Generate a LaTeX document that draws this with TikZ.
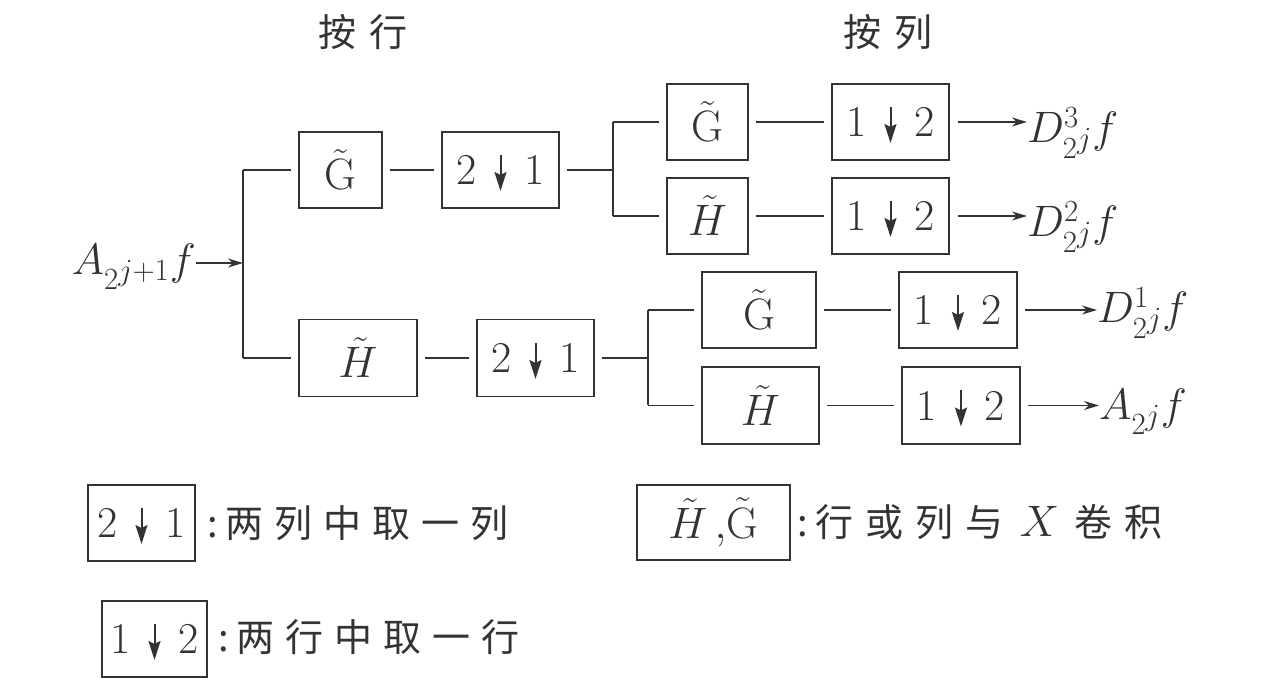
\RequirePackage{fix-cm}
\documentclass[tikz,border=0pt]{standalone}
\usepackage{fontspec}
\newfontfamily\cjk{Noto Sans CJK SC}
\usetikzlibrary{arrows.meta}
\definecolor{ink}{HTML}{333333}
\newcommand{\dgap}{\hspace{48pt}}
\newcommand{\Gt}{\tilde{\mathrm{G}}}
\begin{document}
\begin{tikzpicture}[x=1pt,y=-1pt,
  box/.style={draw=ink,line width=1.6pt,minimum height=76pt,inner sep=0pt,text=ink,font=\fontsize{44}{48}\selectfont},
  ln/.style={draw=ink,line width=1.5pt},
  gap/.style={shorten <=7pt,shorten >=7pt},
  arr/.style={ln,-{Stealth[length=15pt,width=9pt]}},
  dn/.style={draw=ink,line width=2pt,-{Stealth[length=19pt,width=12pt,inset=3pt]}},
  lbl/.style={text=ink,inner sep=0pt,font=\fontsize{44}{48}\selectfont},
  zh/.style={text=ink,inner sep=0pt,font=\cjk\fontsize{38}{40}\selectfont}]
\useasboundingbox (0,0) rectangle (1267,700);

% headings
\node[zh] (hr) at (363,32) {按\hspace{14pt}行};
\node[zh] (hc) at (888,32) {按\hspace{14pt}列};

% input
\node[lbl,anchor=base east] (in) at (196,275) {$A_{2^{\scriptstyle j+1}}f$};
\coordinate (j0) at (243,263);
\coordinate (jt) at (243,170);
\coordinate (jb) at (243,358);
\draw[arr] (in.east |- j0) -- (j0);
\draw[ln] (jt) -- (jb);

% first stage
\node[box,minimum width=83pt] (g1) at (340.5,170) {$\Gt$};
\node[box,minimum width=117pt] (d1) at (500.5,170) {2\dgap 1};
\node[box,minimum width=118pt,minimum height=77pt] (h1) at (358,358) {$\tilde{H}$};
\node[box,minimum width=117pt,minimum height=77pt] (d2) at (535.5,358) {2\dgap 1};
\draw[ln,shorten >=7pt] (jt) -- (g1.west);
\draw[ln,shorten >=7pt] (jb) -- (h1.west);
\draw[ln,gap] (g1) -- (d1);
\draw[ln,gap] (h1) -- (d2);

% upper second stage
\coordinate (s1t) at (613,122);
\coordinate (s1b) at (613,216);
\coordinate (s1m) at (613,170);
\draw[ln] (s1t) -- (s1b);
\draw[ln,shorten <=7pt] (d1.east) -- (s1m);
\node[box,minimum width=81pt] (g2) at (707.5,122) {$\Gt$};
\node[box,minimum width=81pt] (h2) at (707.5,216) {$\tilde{H}$};
\node[box,minimum width=117pt] (d3) at (890.5,122) {1\dgap 2};
\node[box,minimum width=117pt] (d4) at (890.5,216) {1\dgap 2};
\draw[ln,shorten >=7pt] (s1t) -- (g2.west);
\draw[ln,shorten >=7pt] (s1b) -- (h2.west);
\draw[ln,gap] (g2) -- (d3);
\draw[ln,gap] (h2) -- (d4);
\node[lbl,anchor=base west] (o1) at (1027,143) {$D^3_{2^{\scriptstyle j}}f$};
\node[lbl,anchor=base west] (o2) at (1027,237) {$D^2_{2^{\scriptstyle j}}f$};
\draw[arr,shorten <=8pt] (d3.east) -- (d3.east -| o1.west);
\draw[arr,shorten <=8pt] (d4.east) -- (d4.east -| o2.west);

% lower second stage
\coordinate (s2t) at (648,310);
\coordinate (s2b) at (648,405.5);
\coordinate (s2m) at (648,358);
\draw[ln] (s2t) -- (s2b);
\draw[ln,shorten <=7pt] (d2.east) -- (s2m);
\node[box,minimum width=114pt] (g3) at (759,310) {$\Gt$};
\node[box,minimum width=117pt,minimum height=77pt] (h3) at (760.5,405.5) {$\tilde{H}$};
\node[box,minimum width=118pt] (d5) at (958,310) {1\dgap 2};
\node[box,minimum width=118pt,minimum height=77pt] (d6) at (961,405.5) {1\dgap 2};
\draw[ln,shorten >=7pt] (s2t) -- (g3.west);
\draw[ln,shorten >=7pt] (s2b) -- (h3.west);
\draw[ln,gap] (g3) -- (d5);
\draw[ln,gap] (h3) -- (d6);
\node[lbl,anchor=base west] (o3) at (1097,323) {$D^1_{2^{\scriptstyle j}}f$};
\node[lbl,anchor=base west] (o4) at (1099,420) {$A_{2^{\scriptstyle j}}f$};
\draw[arr,shorten <=7pt] (d5.east) -- (d5.east -| o3.west);
\draw[arr,shorten <=7pt] (d6.east) -- (d6.east -| o4.west);

% legend
\node[box,minimum width=107pt] (k1) at (141.5,523) {2\dgap 1};
\node[zh,anchor=west] (t1) at (207,523) {:\hspace{8pt}两\hspace{11pt}列\hspace{11pt}中\hspace{11pt}取\hspace{11pt}一\hspace{11pt}列};
\node[box,minimum width=105pt] (k2) at (154.5,639) {1\dgap 2};
\node[zh,anchor=west] (t2) at (218,637) {:\hspace{8pt}两\hspace{11pt}行\hspace{11pt}中\hspace{11pt}取\hspace{11pt}一\hspace{11pt}行};
\node[box,minimum width=153pt,minimum height=75pt] (k3) at (713.5,522.5) {$\tilde{H}\,{,}\Gt$};
\node[zh,anchor=west] (t3) at (797,522) {:\hspace{8pt}行\hspace{12pt}或\hspace{12pt}列\hspace{12pt}与\hspace{16pt}{\fontsize{44}{48}\selectfont$X$}\hspace{16pt}卷\hspace{12pt}积};

% down arrows inside the sampling boxes
\foreach \n in {d1,d2,d3,d4,d5,d6,k1,k2}
  \draw[dn] ([yshift=15pt]\n.center) -- ([yshift=-21pt]\n.center);
\end{tikzpicture}
\end{document}
